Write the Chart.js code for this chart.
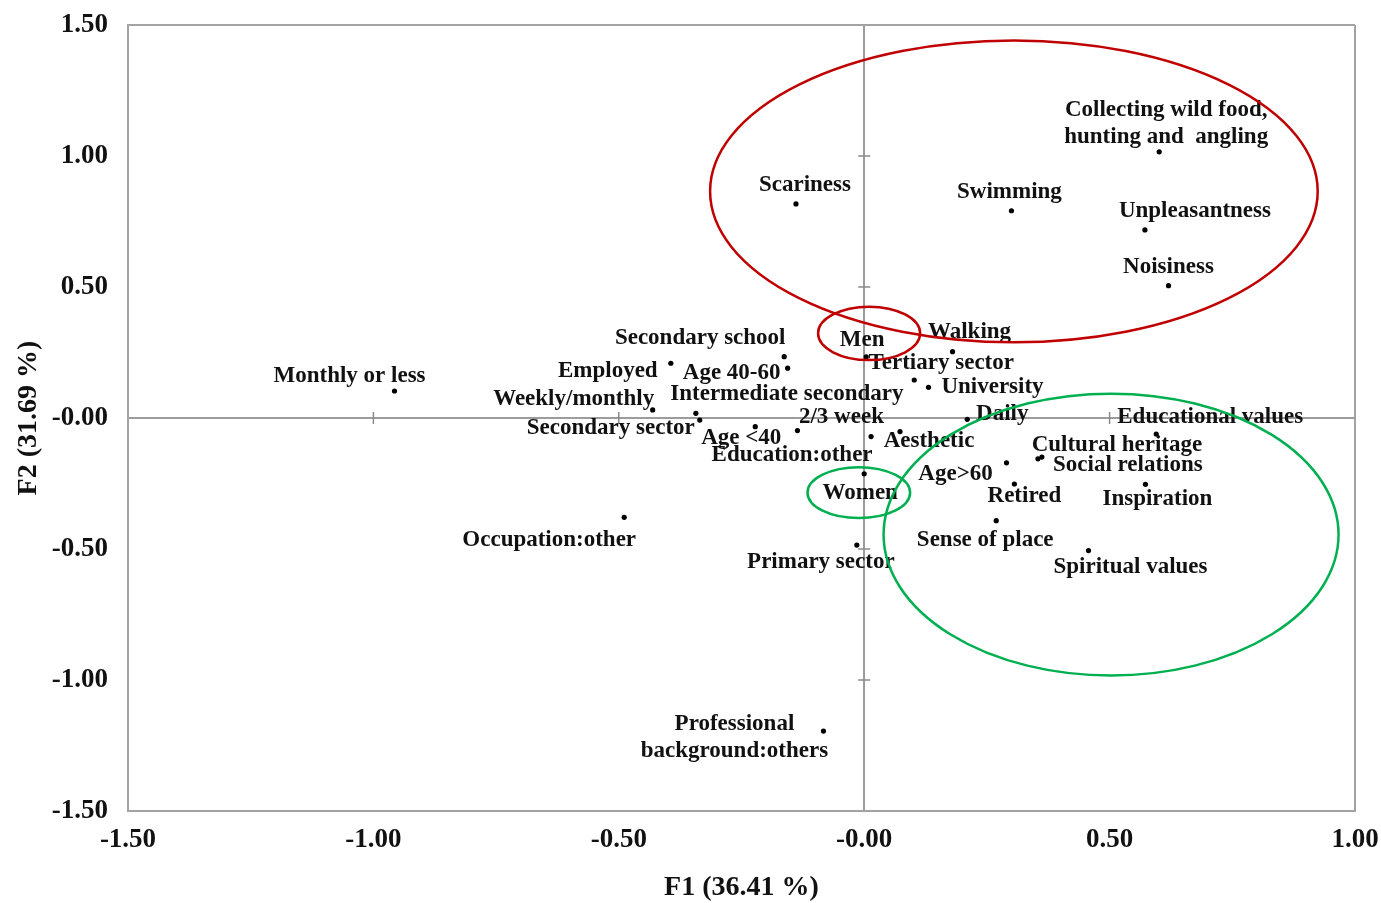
<!DOCTYPE html>
<html>
<head>
<meta charset="utf-8">
<script src="https://cdn.jsdelivr.net/npm/chart.js@4.4.1/dist/chart.umd.min.js"></script>
<style>
  html, body { margin: 0; padding: 0; background: #ffffff; }
  #wrap { width: 1381px; height: 903px; position: relative; }
</style>
</head>
<body>
<div id="wrap"><canvas id="map"></canvas></div>
<script>
// Category labels of the correspondence map ("\n" splits a label over two lines)
const categories = [
  'Collecting wild food,\nhunting and  angling', 'Scariness', 'Swimming', 'Unpleasantness', 'Noisiness',
  'Men', 'Walking', 'Secondary school', 'Employed', 'Age 40-60',
  'Tertiary sector', 'Monthly or less', 'Intermediate secondary', 'University', 'Weekly/monthly',
  '2/3 week', 'Daily', 'Educational values', 'Secondary sector', 'Age <40',
  'Aesthetic', 'Education:other', 'Cultural heritage', 'Social relations', 'Age>60',
  'Women', 'Retired', 'Inspiration', 'Occupation:other', 'Sense of place',
  'Spiritual values', 'Primary sector', 'Professional\nbackground:others'
];

// Coordinates on the first factor (F1)
const f1 = [
  0.601, -0.139, 0.300, 0.572, 0.620,
  0.004, 0.180, -0.163, -0.394, -0.156,
  0.102, -0.957, -0.343, 0.131, -0.431,
  -0.136, 0.210, 0.595, -0.335, -0.222,
  0.073, 0.014, 0.354, 0.362, 0.290,
  0.000, 0.306, 0.573, -0.489, 0.269,
  0.457, -0.015, -0.083
];

// Coordinates on the second factor (F2)
const f2 = [
  1.016, 0.817, 0.791, 0.718, 0.505,
  0.233, 0.253, 0.234, 0.209, 0.190,
  0.145, 0.103, 0.018, 0.117, 0.031,
  -0.048, -0.005, -0.061, -0.008, -0.033,
  -0.052, -0.071, -0.156, -0.149, -0.171,
  -0.213, -0.252, -0.253, -0.379, -0.392,
  -0.506, -0.485, -1.195
];

// Tick values of both axes
const xTicks = [-1.5, -1.0, -0.5, 0.0, 0.5, 1.0];
const yTicks = [-1.5, -1.0, -0.5, 0.0, 0.5, 1.0, 1.5];

// Where each label sits relative to its point, in pixels [dx, dy] (centre of the text block)
const labelOffsets = [
  [7, -28], [9, -19], [-2, -19], [50, -19], [0, -19],
  [-4, -17], [17, -20], [-84, -19], [-63, 8], [-56, 5],
  [27, -17], [-45, -15], [91, -19], [64, 0], [-79, -11],
  [44, -14], [35, -5], [54, -17], [-89, 8], [-14, 11],
  [29, 9], [-79, 18], [79, -14], [86, 8], [-51, 11],
  [-4, 19], [10, 12], [12, 15], [-75, 23], [-11, 19],
  [42, 16], [-36, 17], [-89, 6]
];

// Grouping ellipses in data units: centre F1, centre F2, half-width, half-height
const ellipseCx = [0.305, 0.010, -0.011, 0.503];
const ellipseCy = [0.865, 0.323, -0.285, -0.445];
const ellipseRx = [0.619, 0.104, 0.1045, 0.4635];
const ellipseRy = [0.576, 0.102, 0.097, 0.538];
const ellipseColors = ['#c00000', '#c00000', '#00b050', '#00b050'];

const SERIF = '"Liberation Serif", "Times New Roman", serif';
const FRAME = '#a3a3a3';
const AXIS0 = '#9c9c9c';

const fmt = v => (v === 0 ? '-0.00' : v.toFixed(2));

// Zero axes with small tick marks at every 0.5
const zeroAxes = {
  id: 'zeroAxes',
  beforeDatasetsDraw(chart) {
    const { ctx, scales: { x, y } } = chart;
    const x0 = x.getPixelForValue(0);
    const y0 = y.getPixelForValue(0);
    ctx.save();
    ctx.strokeStyle = '#8a8a8a';
    ctx.lineWidth = 1.5;
    ctx.beginPath();
    xTicks.forEach(v => {
      if (v === 0 || v === x.min || v === x.max) return;
      const px = x.getPixelForValue(v);
      ctx.moveTo(px, y0 - 6); ctx.lineTo(px, y0 + 6);
    });
    yTicks.forEach(v => {
      if (v === 0 || v === y.min || v === y.max) return;
      const py = y.getPixelForValue(v);
      ctx.moveTo(x0 - 6, py); ctx.lineTo(x0 + 6, py);
    });
    ctx.stroke();
    ctx.restore();
  }
};

// Category names beside their points
const pointLabels = {
  id: 'pointLabels',
  afterDatasetsDraw(chart) {
    const { ctx } = chart;
    const meta = chart.getDatasetMeta(0);
    ctx.save();
    ctx.font = 'bold 23px ' + SERIF;
    ctx.fillStyle = '#111111';
    ctx.textAlign = 'center';
    ctx.textBaseline = 'middle';
    const lh = 27;
    meta.data.forEach((pt, i) => {
      const lines = categories[i].split('\n');
      const [dx, dy] = labelOffsets[i];
      const top = pt.y + dy - (lines.length - 1) * lh / 2;
      lines.forEach((t, k) => ctx.fillText(t, pt.x + dx, top + k * lh));
    });
    ctx.restore();
  }
};

// Group outlines
const groupEllipses = {
  id: 'groupEllipses',
  afterDatasetsDraw(chart) {
    const { ctx, scales: { x, y } } = chart;
    ctx.save();
    ctx.lineWidth = 2.5;
    ellipseCx.forEach((cx, i) => {
      const px = x.getPixelForValue(cx);
      const py = y.getPixelForValue(ellipseCy[i]);
      const rx = Math.abs(x.getPixelForValue(cx + ellipseRx[i]) - px);
      const ry = Math.abs(y.getPixelForValue(ellipseCy[i] + ellipseRy[i]) - py);
      ctx.strokeStyle = ellipseColors[i];
      ctx.beginPath();
      ctx.ellipse(px, py, rx, ry, 0, 0, Math.PI * 2);
      ctx.stroke();
    });
    ctx.restore();
  }
};

const gridColor = ctx => {
  const s = ctx.scale;
  const v = ctx.tick ? ctx.tick.value : null;
  if (v === 0) return AXIS0;
  if (v === s.max) return FRAME;
  return 'rgba(0,0,0,0)';
};

new Chart(document.getElementById('map'), {
  type: 'scatter',
  data: {
    datasets: [{
      data: f1.map((v, i) => ({ x: v, y: f2[i] })),
      pointRadius: 2.6,
      pointHoverRadius: 2.6,
      pointBackgroundColor: '#000000',
      pointBorderWidth: 0
    }]
  },
  options: {
    responsive: true,
    maintainAspectRatio: false,
    animation: false,
    events: [],
    layout: { padding: { top: 25, right: 26, left: 0, bottom: 0 } },
    plugins: {
      legend: { display: false },
      tooltip: { enabled: false }
    },
    scales: {
      x: {
        type: 'linear',
        min: -1.5,
        max: 1.0,
        afterBuildTicks: s => { s.ticks = xTicks.map(v => ({ value: v })); },
        afterFit: s => { s.height = 92; s.paddingLeft = 0; s.paddingRight = 0; },
        ticks: {
          callback: fmt,
          color: '#111111',
          padding: 13,
          maxRotation: 0,
          font: { family: SERIF, size: 27, weight: 'bold' }
        },
        grid: { color: gridColor, lineWidth: 2, drawTicks: false },
        border: { display: true, color: FRAME, width: 2 },
        title: {
          display: true,
          text: 'F1 (36.41 %)',
          color: '#111111',
          padding: { top: 0, bottom: 0 },
          font: { family: SERIF, size: 28, weight: 'bold', lineHeight: 1.1 }
        }
      },
      y: {
        type: 'linear',
        min: -1.5,
        max: 1.5,
        afterBuildTicks: s => { s.ticks = yTicks.map(v => ({ value: v })); },
        afterFit: s => { s.width = 128; s.paddingTop = 0; s.paddingBottom = 0; },
        ticks: {
          callback: fmt,
          color: '#111111',
          padding: 20,
          font: { family: SERIF, size: 27, weight: 'bold' }
        },
        grid: { color: gridColor, lineWidth: 2, drawTicks: false },
        border: { display: true, color: FRAME, width: 2 },
        title: {
          display: true,
          text: 'F2 (31.69 %)',
          color: '#111111',
          padding: { top: 13, bottom: 0 },
          font: { family: SERIF, size: 28, weight: 'bold', lineHeight: 1.1 }
        }
      }
    }
  },
  plugins: [zeroAxes, pointLabels, groupEllipses]
});
</script>
</body>
</html>
